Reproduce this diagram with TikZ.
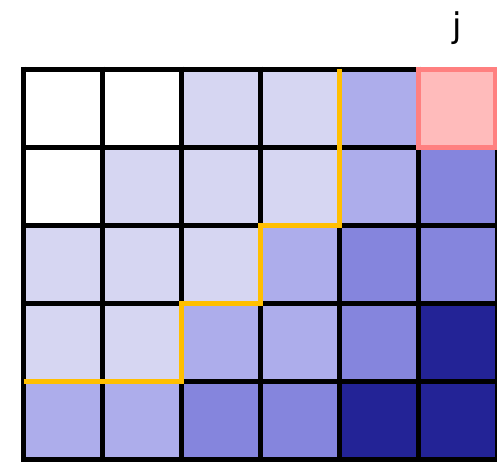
\documentclass[tikz,border=0pt]{standalone}
\usepackage{fontspec}
\setsansfont{DejaVu Sans}
\usepackage{tikz}
\usetikzlibrary{positioning}

\definecolor{cellw}{HTML}{FFFFFF}
\definecolor{celll}{HTML}{D6D6F2}
\definecolor{cellm}{HTML}{ADADEB}
\definecolor{celld}{HTML}{8585DD}
\definecolor{cellk}{HTML}{232396}
\definecolor{cellp}{HTML}{FFBBBB}
\definecolor{pinkedge}{HTML}{FF8080}
\definecolor{pathgold}{HTML}{FFBF00}

\tikzset{
    gridline/.style={
        line width=5pt,
        black
    },
    marked/.style={
        line width=5pt,
        pinkedge
    },
    border/.style={
        line width=5pt,
        pathgold
    }
}

\begin{document}
\begin{tikzpicture}[
    x=1pt,
    y=-1pt
]

    \useasboundingbox (0,0) rectangle (497,461);

    % Celdas
    \foreach \row [count=\r from 0] in {%
        {w,w,l,l,m,p},%
        {w,l,l,l,m,d},%
        {l,l,l,m,d,d},%
        {l,l,m,m,d,k},%
        {m,m,d,d,k,k}}{%
        \foreach \c [count=\i from 0] in \row {
            \fill[color=cell\c] (23.5+79*\i,69+78*\r) rectangle ++(79,78);
        }
    }

    % Rejilla
    \foreach \i in {0,...,6}
        \draw[gridline] (23.5+79*\i,66.5) -- (23.5+79*\i,461.5);
    \foreach \r in {0,...,5}
        \draw[gridline] (21,69+78*\r) -- (500,69+78*\r);

    % Celda marcada
    \draw[marked] (418.5,69) rectangle (495,147);

    % Frontera
    \coordinate (b0) at (23.5,381);
    \coordinate (b1) at (181.5,381);
    \coordinate (b2) at (181.5,303);
    \coordinate (b3) at (260.5,303);
    \coordinate (b4) at (260.5,225);
    \coordinate (b5) at (339.5,225);
    \coordinate (b6) at (339.5,69);
    \draw[border] (b0) -- (b1) -- (b2) -- (b3) -- (b4) -- (b5) -- (b6);

    % Etiqueta
    \node[font=\sffamily\fontsize{34}{40}\selectfont] (lj) at (457,28) {j};

\end{tikzpicture}
\end{document}
